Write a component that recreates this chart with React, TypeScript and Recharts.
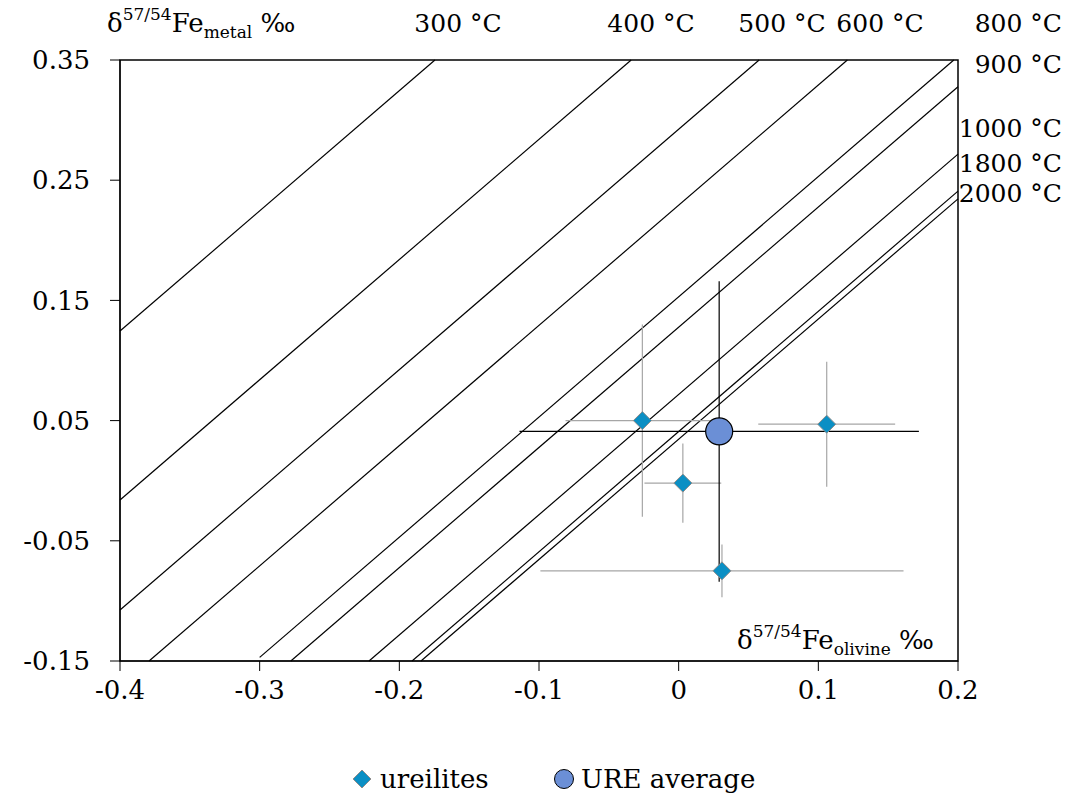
import React from "react";
import {
  ScatterChart,
  Scatter,
  XAxis,
  YAxis,
  ErrorBar,
  ReferenceLine,
  ReferenceArea,
  Customized,
} from "recharts";

// isotherms: δmetal = δolivine + Δ(T)
const isoLabels = ["300 °C", "400 °C", "500 °C", "600 °C", "800 °C", "900 °C", "1000 °C", "1800 °C", "2000 °C"];
const isoOffsets = [0.5245, 0.384, 0.2924, 0.2292, 0.153, 0.1277, 0.0717, 0.0409, 0.0345];
const isoStartX = [-0.4, -0.4, -0.4, -0.4, -0.3, -0.4, -0.4, -0.4, -0.4];

// ureilite samples
const ureX = [-0.026, 0.003, 0.106, 0.031];
const ureY = [0.05, -0.002, 0.047, -0.075];
const ureXErr = [0.055, 0.0275, 0.049, 0.13];
const ureYErr = [0.08, 0.033, 0.052, 0.022];

// URE average
const avgX = [0.029];
const avgY = [0.041];
const avgXErr = [0.143];
const avgYErr = [0.125];

const xTicks = [-0.4, -0.3, -0.2, -0.1, 0, 0.1, 0.2];
const yTicks = [-0.15, -0.05, 0.05, 0.15, 0.25, 0.35];

const X_MIN = -0.4, X_MAX = 0.2, Y_MIN = -0.15, Y_MAX = 0.35;

const ureData = ureX.map((x, i) => ({ x, y: ureY[i], ex: ureXErr[i], ey: ureYErr[i] }));
const avgData = avgX.map((x, i) => ({ x, y: avgY[i], ex: avgXErr[i], ey: avgYErr[i] }));

// clip each isotherm to the plot box
const isoSegments = isoOffsets.map((d, i) => {
  const x1 = Math.max(isoStartX[i], Y_MIN - d);
  const x2 = Math.min(X_MAX, Y_MAX - d);
  return [
    { x: x1, y: x1 + d },
    { x: x2, y: x2 + d },
  ];
});

const FONT = "'DejaVu Serif', serif";
const DIAMOND_FILL = "#0b8fc4";
const CIRCLE_FILL = "#6b8fd6";

const Diamond = (props: any) => {
  const { cx, cy } = props;
  const r = 9;
  return (
    <polygon
      points={`${cx},${cy - r} ${cx + r},${cy} ${cx},${cy + r} ${cx - r},${cy}`}
      fill={DIAMOND_FILL}
      stroke="#8c8c8c"
      strokeWidth={1}
    />
  );
};

const Dot = (props: any) => {
  const { cx, cy } = props;
  return <circle cx={cx} cy={cy} r={13.5} fill={CIRCLE_FILL} stroke="#000" strokeWidth={1.2} />;
};

// label positions for the isotherms (chart pixels)
const isoLabelPos = [
  { x: 450, y: 32, anchor: "middle" },
  { x: 643, y: 32, anchor: "middle" },
  { x: 774, y: 32, anchor: "middle" },
  { x: 872, y: 32, anchor: "middle" },
  { x: 1054, y: 32, anchor: "end" },
  { x: 1054, y: 73, anchor: "end" },
  { x: 1054, y: 137, anchor: "end" },
  { x: 1054, y: 172, anchor: "end" },
  { x: 1054, y: 202, anchor: "end" },
];

const AxisTitle = ({ x, y, sub }: { x: number; y: number; sub: string }) => (
  <text x={x} y={y} fontFamily={FONT} fontSize={26} fill="#000">
    δ
    <tspan fontSize={17} dy={-12}>57/54</tspan>
    <tspan dy={12}>Fe</tspan>
    <tspan fontSize={17} dy={6}>{sub}</tspan>
    <tspan dy={-6}> ‰</tspan>
  </text>
);

const Annotations = () => (
  <g>
    {isoLabels.map((t, i) => (
      <text
        key={t}
        x={isoLabelPos[i].x}
        y={isoLabelPos[i].y}
        textAnchor={isoLabelPos[i].anchor as any}
        fontFamily={FONT}
        fontSize={25}
        fill="#000"
      >
        {t}
      </text>
    ))}
    <AxisTitle x={99} y={32} sub="metal" />
    <AxisTitle x={729} y={649} sub="olivine" />
  </g>
);

export default function App() {
  return (
    <div style={{ position: "relative", width: 1084, height: 797, marginTop: -8 }}>
      <ScatterChart
        width={1084}
        height={748}
        margin={{ top: 60, right: 134, left: 0, bottom: 47 }}
        style={{ fontFamily: FONT }}
      >
        <XAxis
          type="number"
          dataKey="x"
          domain={[X_MIN, X_MAX]}
          ticks={xTicks}
          allowDataOverflow
          height={40}
          tickSize={10}
          tickMargin={10}
          stroke="#000"
          tick={{ fill: "#000", fontSize: 26, fontFamily: FONT }}
          tickFormatter={(v: number) => String(Math.round(v * 10) / 10)}
        />
        <YAxis
          type="number"
          dataKey="y"
          domain={[Y_MIN, Y_MAX]}
          ticks={yTicks}
          allowDataOverflow
          width={112}
          tickSize={10}
          tickMargin={20}
          stroke="#000"
          tick={{ fill: "#000", fontSize: 26, fontFamily: FONT }}
          tickFormatter={(v: number) => v.toFixed(2)}
        />
        {isoSegments.map((seg, i) => (
          <ReferenceLine key={isoLabels[i]} segment={seg} stroke="#000" strokeWidth={1.2} />
        ))}
        <ReferenceArea x1={X_MIN} x2={X_MAX} y1={Y_MIN} y2={Y_MAX} fill="none" stroke="#000" strokeWidth={1.5} />
        <Scatter name="ureilites" data={ureData} shape={Diamond} isAnimationActive={false}>
          <ErrorBar dataKey="ex" direction="x" width={0} stroke="#a6a6a6" strokeWidth={1.2} />
          <ErrorBar dataKey="ey" direction="y" width={0} stroke="#a6a6a6" strokeWidth={1.2} />
        </Scatter>
        <Scatter name="URE average" data={avgData} shape={Dot} isAnimationActive={false}>
          <ErrorBar dataKey="ex" direction="x" width={0} stroke="#000" strokeWidth={1.2} />
          <ErrorBar dataKey="ey" direction="y" width={0} stroke="#000" strokeWidth={1.2} />
        </Scatter>
        <Customized component={Annotations} />
      </ScatterChart>
      <svg
        width={1084}
        height={50}
        style={{ position: "absolute", left: 0, top: 754 }}
        fontFamily={FONT}
      >
        <polygon points="354,16 363,25 354,34 345,25" fill={DIAMOND_FILL} stroke="#8c8c8c" />
        <text x={372} y={34} fontSize={26} fill="#000">ureilites</text>
        <circle cx={556} cy={25} r={9.5} fill={CIRCLE_FILL} stroke="#000" />
        <text x={573} y={34} fontSize={26} fill="#000">URE average</text>
      </svg>
    </div>
  );
}
